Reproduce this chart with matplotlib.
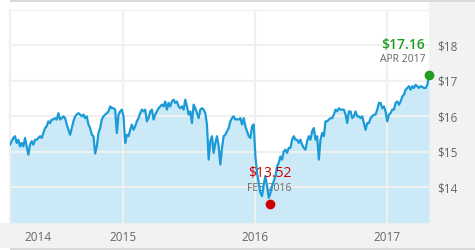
import matplotlib
matplotlib.use("Agg")
import matplotlib.pyplot as plt
import matplotlib.dates as mdates
from matplotlib.patches import Rectangle
import pandas as pd

plt.rcParams['font.family'] = ['Open Sans', 'DejaVu Sans']

# Data (weekly-ish closing prices)
start_date = "2014-02-23"
end_date = "2017-04-27"
prices = [
    15.20, 15.30, 15.39, 15.44, 15.25, 15.34, 15.15, 15.25, 15.15, 15.39,
    15.15, 14.92, 15.20, 15.30, 15.20, 15.34, 15.34, 15.39, 15.44, 15.39,
    15.53, 15.67, 15.72, 15.86, 15.81, 15.91, 15.91, 15.95, 15.91, 16.09,
    15.91, 15.95, 16.00, 15.95, 15.77, 15.62, 15.48, 15.67, 15.86, 16.00,
    16.05, 16.09, 16.05, 16.00, 16.05, 15.95, 16.00, 15.77, 15.67, 15.48,
    15.44, 14.95, 15.15, 15.53, 15.67, 15.91, 16.00, 16.05, 16.09, 16.14,
    16.28, 16.23, 16.23, 16.19, 15.53, 16.05, 16.14, 16.19, 16.00, 15.25,
    15.48, 15.44, 15.62, 15.77, 15.62, 15.72, 15.86, 15.95, 16.09, 16.19,
    16.14, 16.19, 15.86, 15.95, 16.14, 16.19, 15.91, 16.05, 16.14, 16.23,
    16.28, 16.33, 16.28, 16.42, 16.19, 16.38, 16.28, 16.42, 16.47, 16.38,
    16.42, 16.28, 16.23, 16.28, 16.19, 16.47, 16.28, 16.05, 16.14, 15.81,
    16.33, 16.23, 16.09, 15.95, 16.19, 16.23, 16.19, 16.09, 15.77, 14.78,
    15.30, 15.44, 14.97, 15.25, 15.44, 15.15, 14.64, 15.11, 15.44, 15.48,
    15.58, 15.67, 15.86, 15.95, 16.00, 15.91,
    15.92, 15.91, 15.95, 15.77, 15.95, 15.72, 15.58, 15.44, 15.39, 15.72,
    15.77, 14.87, 14.40, 14.12, 13.84, 13.75, 14.08, 14.31, 14.03, 13.70,
    13.84, 14.03, 14.17, 14.31, 14.59, 14.69, 14.87, 14.78, 15.01, 15.06,
    14.97, 15.11, 15.11, 15.34, 15.44, 15.34, 15.34, 15.25, 15.34, 15.20,
    15.11, 15.06, 15.30, 15.44, 15.34, 15.58, 15.67, 15.34, 15.44, 14.78,
    15.34, 15.53, 15.44, 15.86, 15.86, 15.91, 15.95, 15.95, 16.05, 16.19,
    16.14, 16.23, 16.19, 16.19, 16.19, 16.05, 15.81, 16.14, 16.14, 15.95,
    16.00, 16.14, 16.00, 16.00, 15.95, 16.00, 15.81, 15.62, 15.81, 15.81,
    15.95, 16.00, 16.05, 16.05, 16.19, 16.38, 16.38, 16.23, 16.28, 16.14,
    15.86, 16.05, 16.09, 16.19, 16.19, 16.38, 16.42, 16.33, 16.42, 16.56,
    16.61, 16.75, 16.80, 16.85, 16.75, 16.85, 16.80, 16.89, 16.85, 16.80,
    16.85, 16.83, 16.80, 16.80, 16.89, 17.16,
]
high_date, high_value, high_label = "2017-04-27", 17.16, "APR 2017"
low_date, low_value, low_label = "2016-02-11", 13.52, "FEB 2016"
y_ticks = [14, 15, 16, 17, 18]
y_tick_labels = ["$14", "$15", "$16", "$17", "$18"]
x_tick_dates = ["2014-05-11", "2015-01-01", "2016-01-01", "2017-01-01"]
x_tick_labels = ["2014", "2015", "2016", "2017"]
year_grid_dates = ["2015-01-01", "2016-01-01", "2017-01-01"]

dates = pd.date_range(start_date, end_date, periods=len(prices))

W, H = 475, 250
fig = plt.figure(figsize=(W / 100, H / 100), dpi=100)
fig.patch.set_facecolor("white")

# gray panels
panel = "#f2f2f2"
fig.add_artist(Rectangle((0, 2 / H), 1, (222.7 - 2) / H * 0 + (248 - 222.7) / H,
                         transform=fig.transFigure, facecolor=panel, edgecolor="none", zorder=0))
fig.add_artist(Rectangle((429 / W, 2 / H), (W - 429) / W, 246 / H,
                         transform=fig.transFigure, facecolor=panel, edgecolor="none", zorder=0))
fig.add_artist(Rectangle((10 / W, 248 / H), 1, 2 / H,
                         transform=fig.transFigure, facecolor="#d9d9d9", edgecolor="none", zorder=0))
fig.add_artist(Rectangle((10 / W, 0), 1, 2 / H,
                         transform=fig.transFigure, facecolor="#d9d9d9", edgecolor="none", zorder=0))

ax = fig.add_axes([10 / W, (250 - 222.7) / H, (429 - 10) / W, (222.7 - 10) / H])
ax.set_facecolor("white")

line_color = "#1a9bd7"
fill_color = "#cce9f7"
grid_color = "#f0f0f0"

ax.fill_between(dates, prices, 13, color=fill_color, linewidth=0, zorder=1)
for y in [14, 15, 16, 17, 18, 19]:
    ax.axhline(y, color=grid_color, linewidth=1.5, zorder=2)
for d in year_grid_dates:
    ax.axvline(pd.Timestamp(d), color=grid_color, linewidth=1.5, zorder=2)
ax.plot(dates, prices, color=line_color, linewidth=1.6, zorder=3, solid_joinstyle="round")

ax.set_xlim(dates[0], dates[-1])
ax.set_ylim(13, 19)

ax.yaxis.tick_right()
ax.set_yticks(y_ticks)
ax.set_yticklabels(y_tick_labels)
ax.set_xticks([pd.Timestamp(d) for d in x_tick_dates])
ax.set_xticklabels(x_tick_labels)
ax.tick_params(axis="y", length=0, pad=6, labelsize=8.5, labelcolor="#666666")
ax.tick_params(axis="x", length=0, pad=6, labelsize=8.5, labelcolor="#666666")
for side in ["top", "right", "bottom"]:
    ax.spines[side].set_visible(False)
ax.spines["left"].set_color(grid_color)
ax.spines["left"].set_linewidth(1.5)

green = "#1f9e1f"
red = "#cc0000"
hd = pd.Timestamp(high_date)
ld = pd.Timestamp(low_date)
ax.plot([hd], [high_value], "o", color=green, markersize=6, zorder=6, clip_on=False)
ax.plot([ld], [low_value], "o", color=red, markersize=6, zorder=6, clip_on=False)

ax.annotate(f"${high_value:.2f}", (hd, high_value), xytext=(-4, 30.5), textcoords="offset pixels",
            ha="right", va="center", color=green, fontsize=10, fontweight="semibold", zorder=5)
ax.annotate(high_label, (hd, high_value), xytext=(-4, 16), textcoords="offset pixels",
            ha="right", va="center", color="#666666", fontsize=7.5, zorder=5)
ax.annotate(f"${low_value:.2f}", (ld, low_value), xytext=(0, 31), textcoords="offset pixels",
            ha="center", va="center", color=red, fontsize=10, zorder=5)
ax.annotate(low_label, (ld, low_value), xytext=(0, 16), textcoords="offset pixels",
            ha="center", va="center", color="#666666", fontsize=7.5, zorder=2.5)

fig.savefig("out.png", dpi=100, facecolor=fig.get_facecolor())
